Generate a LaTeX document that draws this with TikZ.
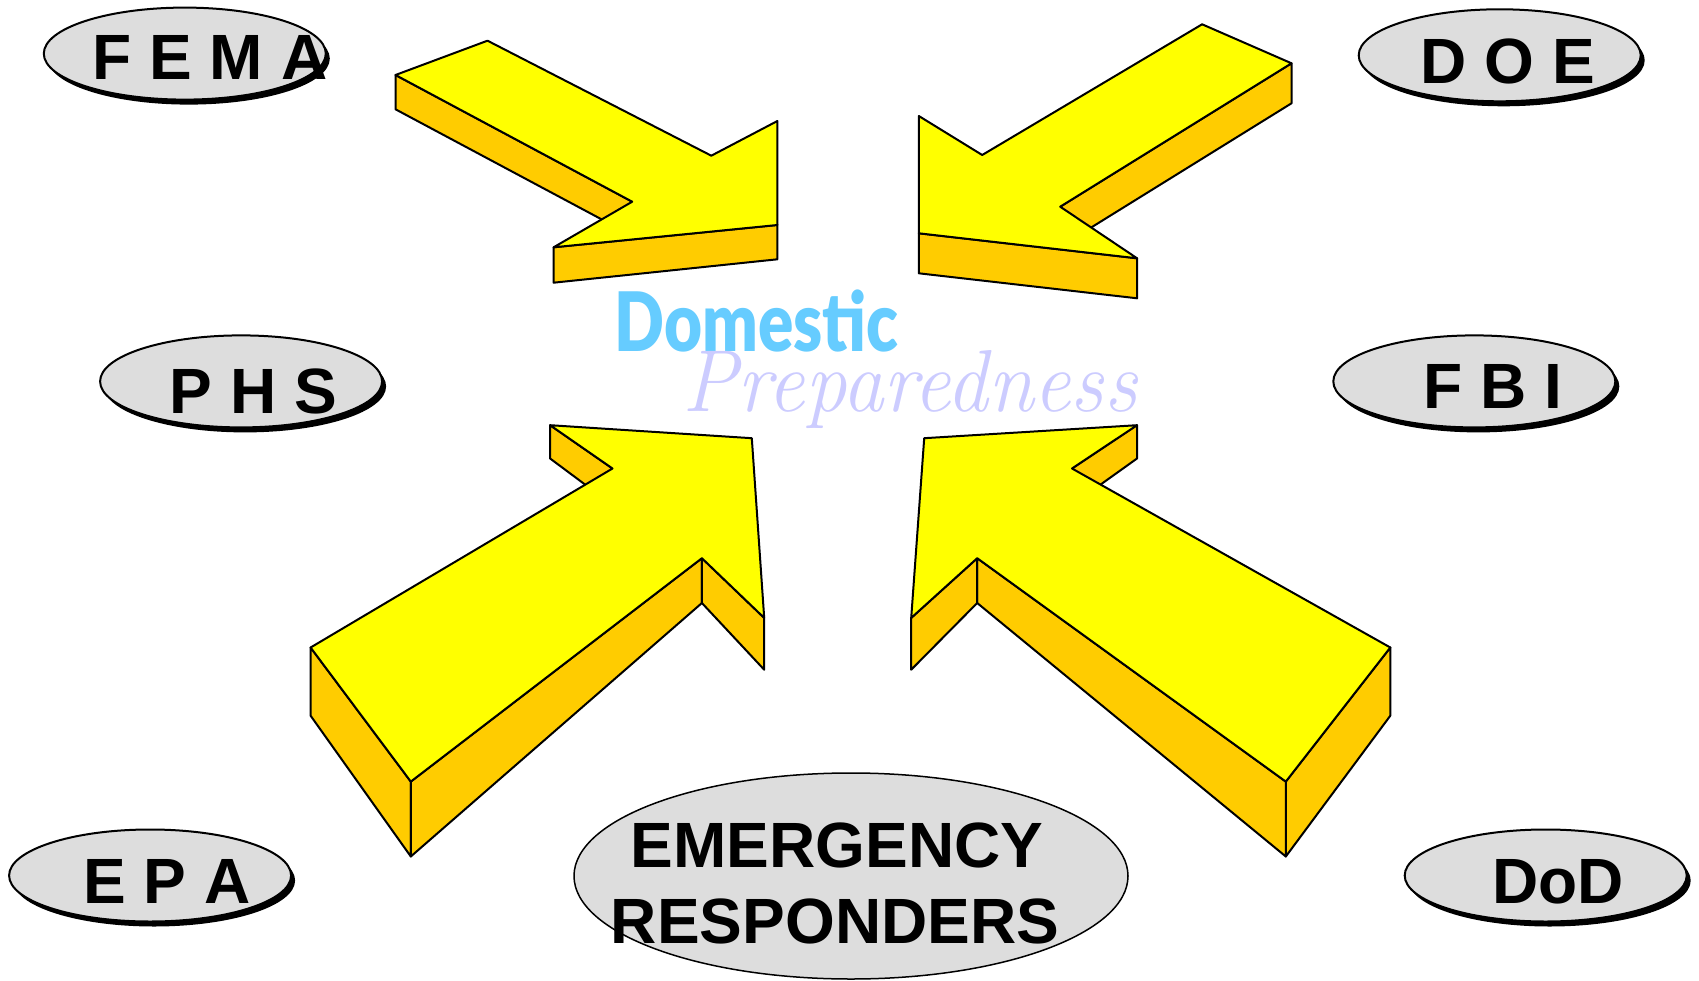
\documentclass[tikz,border=0pt]{standalone}
\usepackage{fontspec}
\usepackage{graphicx}
\newfontfamily\arialfont{Liberation Sans}
\newfontfamily\domfont{Lato Black}
\usetikzlibrary{shapes.geometric,shadows}
\definecolor{topY}{HTML}{FFFF00}
\definecolor{sideO}{HTML}{FFCC00}
\definecolor{grayE}{HTML}{DDDDDD}
\definecolor{domblue}{HTML}{66CCFF}
\definecolor{prepblue}{HTML}{CCCCFF}
\begin{document}
\begin{tikzpicture}[x=1pt,y=-1pt,
  topface/.style={fill=topY,draw=black,line width=2pt,line join=round},
  sideface/.style={fill=sideO,draw=black,line width=2pt,line join=round},
  agency/.style={ellipse,draw=black,line width=2pt,fill=grayE,minimum width=282pt,minimum height=92pt,inner sep=0pt,
    drop shadow={shadow xshift=4pt,shadow yshift=-5pt,fill=black,opacity=1}},
  bigell/.style={ellipse,draw=black,line width=1.5pt,fill=grayE,minimum width=554pt,minimum height=206pt,inner sep=0pt},
  lbl/.style={anchor=base,inner sep=0pt,font=\arialfont\bfseries\fontsize{64}{76}\selectfont}]
\useasboundingbox (0,0) rectangle (1699,981);

% ---- Arrow 1 (FEMA) ----
\draw[sideface] (395.5,75) -- (632.2,201.7) -- (632.2,235.7) -- (395.5,109.3) -- cycle;
\draw[sideface] (553.6,247.3) -- (777.4,225) -- (777.4,259.3) -- (553.6,282.7) -- cycle;
\draw[topface] (395.5,75) -- (487.5,40.7) -- (711.3,155.7) -- (777.4,121) -- (777.4,225) -- (553.6,247.3) -- (632.2,201.7) -- cycle;

% ---- Arrow 2 (DOE) ----
\draw[sideface] (1291.5,63.3) -- (1060.2,206.7) -- (1060.2,246.7) -- (1291.5,103.3) -- cycle;
\draw[sideface] (918.8,233.3) -- (1137.1,258.3) -- (1137.1,298.3) -- (918.8,273.3) -- cycle;
\draw[topface] (1202.1,24.3) -- (1291.5,63.3) -- (1060.2,206.7) -- (1137.1,258.3) -- (918.8,233.3) -- (918.8,116) -- (982.2,155) -- cycle;

% ---- Arrow 3 (lower left) ----
\draw[sideface] (550.1,425.2) -- (612.5,468.5) -- (612.5,505) -- (550.1,458.5) -- cycle;
\draw[sideface] (310.6,647.5) -- (410.8,781.6) -- (410.8,856.5) -- (310.6,715.7) -- cycle;
\draw[sideface] (410.8,781.6) -- (701.9,558.2) -- (701.9,603) -- (410.8,856.5) -- cycle;
\draw[sideface] (701.9,558.2) -- (764.2,617.9) -- (764.2,669.7) -- (701.9,603) -- cycle;
\draw[topface] (550.1,425.2) -- (751.8,438.2) -- (764.2,617.9) -- (701.9,558.2) -- (410.8,781.6) -- (310.6,647.5) -- (612.5,468.5) -- cycle;

% ---- Arrow 4 (lower right) ----
\draw[sideface] (1137,425.2) -- (1072,468.5) -- (1072,505) -- (1137,458.5) -- cycle;
\draw[sideface] (1390.3,647.5) -- (1285.8,781.6) -- (1285.8,856.5) -- (1390.3,715.7) -- cycle;
\draw[sideface] (977.2,558.2) -- (1285.8,781.6) -- (1285.8,856.5) -- (977.2,603) -- cycle;
\draw[sideface] (911.2,617.9) -- (977.2,558.2) -- (977.2,603) -- (911.2,669.7) -- cycle;
\draw[topface] (924.2,438.2) -- (1137,425.2) -- (1072,468.5) -- (1390.3,647.5) -- (1285.8,781.6) -- (977.2,558.2) -- (911.2,617.9) -- cycle;

% ---- Title ----
\node[anchor=base,inner sep=0pt,text=domblue] (dom) at (756.5,352)
  {\scalebox{0.8}[1]{\domfont\fontsize{82}{90}\selectfont Domestic}};
\node[anchor=base,inner sep=0pt,text=prepblue] (prep) at (910,411)
  {\scalebox{0.94}[1]{\fontsize{88}{96}\selectfont\itshape Preparedness}};

% ---- Agencies ----
\node[agency] (femaE) at (184.8,53.6) {};
\node[lbl] (fema) at (210,79.3) {F E M A};
\node[agency] (doeE) at (1499.7,55.3) {};
\node[lbl] (doe) at (1508,83.3) {D O E};
\node[agency] (phsE) at (241.1,381.4) {};
\node[lbl] (phs) at (253.3,413) {P H S};
\node[agency] (fbiE) at (1474.3,381.4) {};
\node[lbl] (fbi) at (1492.5,408.5) {F B I};
\node[agency] (epaE) at (150.1,875.5) {};
\node[lbl] (epa) at (166.7,903) {E P A};
\node[agency] (dodE) at (1545.7,875.5) {};
\node[lbl] (dod) at (1558,903) {DoD};

% ---- Emergency responders ----
\node[bigell] (erE) at (851,876) {};
\node[lbl] (er1) at (837,867) {EMERGENCY};
\node[lbl] (er2) at (835,943) {RESPONDERS};
\end{tikzpicture}
\end{document}
